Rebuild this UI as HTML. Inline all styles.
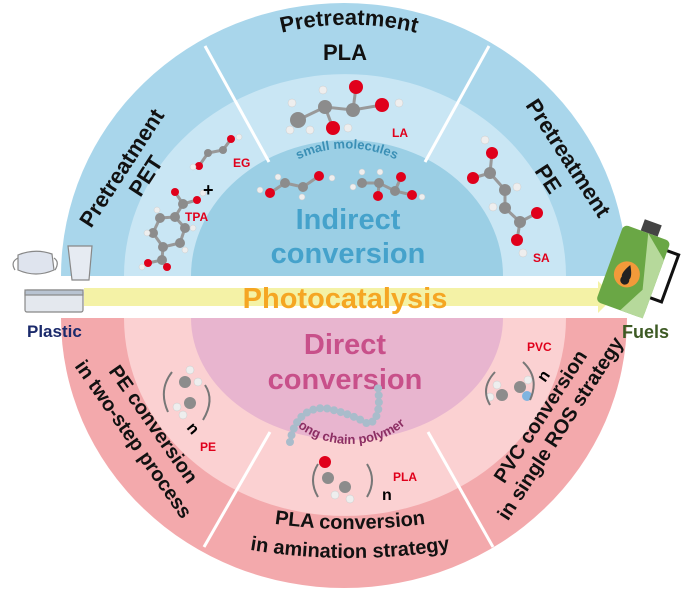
<!DOCTYPE html>
<html><head><meta charset="utf-8"><style>
html,body{margin:0;padding:0;background:#fff;}
svg{display:block;}
text{font-family:"Liberation Sans",Arial,sans-serif;font-weight:bold;}
</style></head><body>
<svg width="700" height="590" viewBox="0 0 700 590" xmlns="http://www.w3.org/2000/svg">
<defs>
<path id="arcSM" d="M 282 170 A 90 70 0 0 1 412 170"/>
<path id="arcLC" d="M 290 420 A 75 60 0 0 0 410 420"/>
<path id="arcPLA1" d="M 240 518 Q 350 540 460 518"/>
<path id="arcPLA2" d="M 210 542 Q 350 574 490 542"/>
<path id="arcPT" d="M 258 40 A 200 140 0 0 1 440 40"/>
</defs>
<!-- top half -->
<path d="M61 276 A283 273 0 0 1 627 276 Z" fill="#a9d6eb"/>
<path d="M124 276 A220 201 0 0 1 566 276 Z" fill="#c9e6f4"/>
<path d="M191 276 A156 136 0 0 1 503 276 Z" fill="#9bcfe5"/>
<!-- bottom half -->
<path d="M61 318 A283 270 0 0 0 627 318 Z" fill="#f3a9ac"/>
<path d="M124 318 A220 197 0 0 0 566 318 Z" fill="#fbd1d2"/>
<path d="M191 318 A156 122 0 0 0 503 318 Z" fill="#e8b5cf"/>
<!-- dividers -->
<g stroke="#fff" stroke-width="3">
<line x1="205" y1="46" x2="269" y2="162"/>
<line x1="489" y1="46" x2="425" y2="162"/>
<line x1="270" y1="432" x2="204" y2="547"/>
<line x1="428" y1="432" x2="493" y2="547"/>
</g>
<!-- arrow -->
<polygon points="84,288 598,288 598,281 614,297 598,313 598,306 84,306" fill="#f4f2a6"/>
<text x="345" y="308" font-size="29" fill="#f5a623" text-anchor="middle">Photocatalysis</text>

<!-- sector labels -->
<text font-size="22" fill="#111" text-anchor="middle" transform="translate(128,172) rotate(-57)">Pretreatment</text>
<text font-size="22" fill="#111" text-anchor="middle" transform="translate(152,180) rotate(-57)">PET</text>
<text font-size="22" fill="#111" text-anchor="middle"><textPath href="#arcPT" startOffset="50%">Pretreatment</textPath></text>
<text x="345" y="60" font-size="22" fill="#111" text-anchor="middle">PLA</text>
<text font-size="22" fill="#111" text-anchor="middle" transform="translate(562,162) rotate(57)">Pretreatment</text>
<text font-size="22" fill="#111" text-anchor="middle" transform="translate(542,183) rotate(57)">PE</text>

<text font-size="20" fill="#111" text-anchor="middle" transform="translate(148,428) rotate(55)">PE conversion</text>
<text font-size="20" fill="#111" text-anchor="middle" transform="translate(128,443) rotate(55)">in two-step process</text>
<text font-size="20" fill="#111" text-anchor="middle"><textPath href="#arcPLA1" startOffset="50%">PLA conversion</textPath></text>
<text font-size="20" fill="#111" text-anchor="middle"><textPath href="#arcPLA2" startOffset="50%">in amination strategy</textPath></text>
<text font-size="20" fill="#111" text-anchor="middle" transform="translate(546,420) rotate(-57)">PVC conversion</text>
<text font-size="20" fill="#111" text-anchor="middle" transform="translate(566,432) rotate(-57)">in single ROS strategy</text>

<!-- centre texts -->
<text font-size="13" fill="#3a8fb5" text-anchor="middle" font-weight="normal"><textPath href="#arcSM" startOffset="50%">small molecules</textPath></text>
<text x="348" y="229" font-size="29" fill="#45a2cb" text-anchor="middle">Indirect</text>
<text x="348" y="263" font-size="29" fill="#45a2cb" text-anchor="middle">conversion</text>
<text x="345" y="354" font-size="29" fill="#c8508a" text-anchor="middle">Direct</text>
<text x="345" y="389" font-size="29" fill="#c8508a" text-anchor="middle">conversion</text>
<text font-size="13" fill="#8c2e63" text-anchor="middle"><textPath href="#arcLC" startOffset="50%">long chain polymer</textPath></text>

<!-- polymer chain beads -->
<path d="M290 442 Q296 408 325 408 Q352 414 368 424 Q382 420 378 388" fill="none" stroke="#a9bccb" stroke-width="8" stroke-linecap="round" stroke-dasharray="0 7"/>

<!-- molecule bonds -->
<g stroke="#999" stroke-width="3" fill="none">
<polyline points="298,120 325,107 353,110 382,105"/><line x1="353" y1="110" x2="356" y2="87"/><line x1="325" y1="107" x2="333" y2="128"/>
<polyline points="270,193 285,183 303,187 319,176"/>
<polyline points="362,183 379,183 395,191 412,195"/><line x1="395" y1="191" x2="401" y2="177"/><line x1="379" y1="183" x2="378" y2="196"/>
<polyline points="199,166 208,153 223,150 231,139"/>
<polyline points="175,192 183,204 197,200"/><line x1="183" y1="204" x2="175" y2="217"/>
<polygon points="175,217 160,218 153,233 163,247 180,243 185,228"/>
<polyline points="148,263 162,260 167,267"/><line x1="162" y1="260" x2="163" y2="247"/>
<polyline points="492,153 490,173 505,190 505,208 520,222 537,213"/><line x1="490" y1="173" x2="473" y2="178"/><line x1="520" y1="222" x2="517" y2="240"/>
</g>
<!-- balls -->
<g fill="#8c8c8c">
<circle cx="325" cy="107" r="7"/><circle cx="353" cy="110" r="7"/><circle cx="298" cy="120" r="8"/>
<circle cx="285" cy="183" r="5"/><circle cx="303" cy="187" r="5"/>
<circle cx="362" cy="183" r="5"/><circle cx="379" cy="183" r="5"/><circle cx="395" cy="191" r="5"/>
<circle cx="208" cy="153" r="4"/><circle cx="223" cy="150" r="4"/>
<circle cx="183" cy="204" r="5"/><circle cx="175" cy="217" r="5"/><circle cx="160" cy="218" r="5"/><circle cx="153" cy="233" r="5"/><circle cx="163" cy="247" r="5"/><circle cx="180" cy="243" r="5"/><circle cx="185" cy="228" r="5"/><circle cx="162" cy="260" r="5"/>
<circle cx="490" cy="173" r="6"/><circle cx="505" cy="190" r="6"/><circle cx="505" cy="208" r="6"/><circle cx="520" cy="222" r="6"/>
<circle cx="185" cy="382" r="6"/><circle cx="190" cy="403" r="6"/>
<circle cx="328" cy="478" r="6"/><circle cx="345" cy="487" r="6"/>
<circle cx="502" cy="395" r="6"/><circle cx="520" cy="387" r="6"/>
</g>
<g fill="#e0001b">
<circle cx="356" cy="87" r="7"/><circle cx="382" cy="105" r="7"/><circle cx="333" cy="128" r="7"/>
<circle cx="270" cy="193" r="5"/><circle cx="319" cy="176" r="5"/>
<circle cx="378" cy="196" r="5"/><circle cx="401" cy="177" r="5"/><circle cx="412" cy="195" r="5"/>
<circle cx="231" cy="139" r="4"/><circle cx="199" cy="166" r="4"/>
<circle cx="175" cy="192" r="4"/><circle cx="197" cy="200" r="4"/><circle cx="148" cy="263" r="4"/><circle cx="167" cy="267" r="4"/>
<circle cx="492" cy="153" r="6"/><circle cx="473" cy="178" r="6"/><circle cx="537" cy="213" r="6"/><circle cx="517" cy="240" r="6"/>
<circle cx="325" cy="462" r="6"/>
</g>
<circle cx="527" cy="396" r="5" fill="#7fb4e0"/>
<g fill="#eeeeee" stroke="#ccc" stroke-width="0.5">
<circle cx="323" cy="90" r="4"/><circle cx="292" cy="103" r="4"/><circle cx="290" cy="130" r="4"/><circle cx="310" cy="130" r="4"/><circle cx="348" cy="128" r="4"/><circle cx="399" cy="103" r="4"/>
<circle cx="260" cy="190" r="3"/><circle cx="278" cy="177" r="3"/><circle cx="302" cy="197" r="3"/><circle cx="332" cy="178" r="3"/>
<circle cx="353" cy="187" r="3"/><circle cx="362" cy="172" r="3"/><circle cx="380" cy="172" r="3"/><circle cx="422" cy="197" r="3"/>
<circle cx="239" cy="137" r="3"/><circle cx="193" cy="167" r="3"/>
<circle cx="203" cy="193" r="3"/><circle cx="157" cy="210" r="3"/><circle cx="147" cy="233" r="3"/><circle cx="193" cy="228" r="3"/><circle cx="185" cy="250" r="3"/><circle cx="142" cy="267" r="3"/>
<circle cx="485" cy="140" r="4"/><circle cx="517" cy="187" r="4"/><circle cx="493" cy="207" r="4"/><circle cx="523" cy="253" r="4"/>
<circle cx="190" cy="370" r="4"/><circle cx="198" cy="382" r="4"/><circle cx="177" cy="407" r="4"/><circle cx="183" cy="415" r="4"/>
<circle cx="335" cy="495" r="4"/><circle cx="350" cy="499" r="4"/>
<circle cx="497" cy="385" r="4"/><circle cx="490" cy="397" r="4"/><circle cx="528" cy="380" r="4"/>
</g>
<!-- brackets -->
<g stroke="#777" stroke-width="2" fill="none">
<path d="M172 372 Q158 390 168 412"/><path d="M205 385 Q215 400 203 420"/>
<path d="M318 464 Q308 480 318 497"/><path d="M367 464 Q377 480 367 497"/>
<path d="M495 372 Q480 388 490 405"/><path d="M523 362 Q540 378 530 400"/>
</g>
<text x="203" y="196" font-size="18" fill="#000">+</text>
<text font-size="16" fill="#000" transform="translate(186,428) rotate(50)">n</text>
<text x="382" y="500" font-size="16" fill="#000">n</text>
<text font-size="16" fill="#000" transform="translate(545,383) rotate(-55)">n</text>
<g font-size="12" fill="#e0001b">
<text x="233" y="167">EG</text><text x="185" y="221">TPA</text><text x="392" y="137">LA</text><text x="533" y="262">SA</text>
<text x="200" y="451">PE</text><text x="393" y="481">PLA</text><text x="527" y="351">PVC</text>
</g>

<!-- plastic icons -->
<g stroke="#888" stroke-width="1.2">
<path d="M18 255 Q35 248 52 254 L54 270 Q36 278 18 270 Z" fill="#dfe4ee"/>
<path d="M18 258 Q10 262 15 270" fill="none"/><path d="M54 258 Q60 262 55 270" fill="none"/>
<path d="M68 246 L92 246 L89 280 L72 280 Z" fill="#e6ebf2"/>
<rect x="25" y="290" width="58" height="22" rx="2" fill="#e4e8ee"/>
<rect x="25" y="290" width="58" height="5" fill="#b8c3d1"/>
</g>
<text x="27" y="337" font-size="17" fill="#1b2a6b">Plastic</text>
<!-- fuel can -->
<g transform="rotate(20 632 272)">
<rect x="626" y="218" width="18" height="12" fill="#444"/>
<rect x="608" y="230" width="50" height="82" rx="5" fill="#6aa745"/>
<polygon points="634,230 658,250 658,312 634,312 648,285" fill="#b6d99b"/>
<path d="M658 240 L670 240 L670 290 L658 290" fill="none" stroke="#111" stroke-width="3"/>
<circle cx="628" cy="276" r="13" fill="#f29a3a"/>
<path d="M628 266 Q634 276 632 280 A4.5 4.5 0 1 1 624 280 Q622 276 628 266Z" fill="#222"/>
</g>
<text x="622" y="338" font-size="18" fill="#3d5a24">Fuels</text>
</svg>
</body></html>
